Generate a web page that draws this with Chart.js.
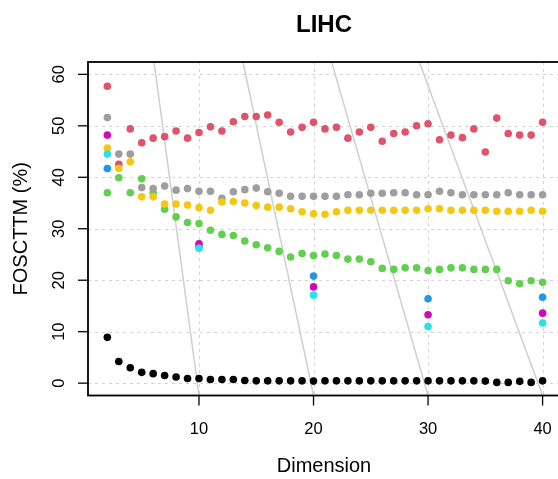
<!DOCTYPE html>
<html>
<head>
<meta charset="utf-8">
<title>LIHC</title>
<script src="https://cdn.jsdelivr.net/npm/chart.js@4/dist/chart.umd.min.js"></script>
<style>
  html, body { margin: 0; padding: 0; background: #ffffff; overflow: hidden; }
  #wrap { width: 572px; height: 479px; }
</style>
</head>
<body>
<div id="wrap"><canvas id="chart" width="572" height="479"></canvas></div>
<script>
// Embedding dimensions evaluated
const dims = [2, 3, 4, 5, 6, 7, 8, 9, 10, 11, 12, 13, 14, 15, 16, 17, 18, 19, 20, 21,
              22, 23, 24, 25, 26, 27, 28, 29, 30, 31, 32, 33, 34, 35, 36, 37, 38, 39, 40];

// FOSCTTM (%) per method, one value per dimension
const redVals = [57.7, 42.5, 49.4, 46.7, 47.6, 47.9, 49.0, 47.6, 48.7, 49.8,
                 49.0, 50.8, 51.8, 51.8, 52.1, 50.7, 48.8, 49.7, 50.7, 49.4,
                 49.7, 47.6, 48.8, 49.7, 47.0, 48.5, 48.8, 50.0, 50.4, 47.3,
                 48.2, 47.7, 49.4, 44.9, 51.5, 48.5, 48.2, 48.2, 50.7];
const grayVals = [51.6, 44.5, 44.5, 38.0, 37.8, 38.3, 37.5, 37.8, 37.3, 37.3,
                  35.9, 37.2, 37.6, 37.9, 37.2, 36.9, 36.3, 36.3, 36.3, 36.3,
                  36.3, 36.6, 36.6, 36.9, 36.9, 37.0, 37.0, 36.6, 36.6, 37.3,
                  37.0, 36.6, 36.6, 36.6, 36.6, 37.0, 36.6, 36.6, 36.6];
const yellowVals = [45.7, 41.7, 43.0, 36.2, 36.2, 34.8, 34.8, 34.6, 34.1, 33.6,
                    35.2, 35.3, 35.0, 34.5, 34.2, 34.2, 33.9, 33.3, 32.9, 32.8,
                    33.3, 33.6, 33.6, 33.6, 33.6, 33.6, 33.6, 33.6, 33.9, 33.9,
                    33.6, 33.6, 33.6, 33.6, 33.4, 33.4, 33.4, 33.6, 33.4];
const greenVals = [37.0, 39.9, 37.0, 39.7, 37.0, 33.8, 32.3, 31.2, 31.0, 29.7,
                   28.9, 28.7, 27.6, 26.9, 26.3, 25.6, 24.5, 25.2, 24.8, 25.1,
                   24.8, 24.1, 24.1, 23.6, 22.3, 22.1, 22.4, 22.4, 21.9, 22.1,
                   22.4, 22.4, 22.1, 22.1, 22.1, 19.9, 19.3, 19.9, 19.6];
const blackVals = [8.9, 4.2, 3.0, 2.1, 1.85, 1.5, 1.2, 0.9, 0.9, 0.7,
                   0.7, 0.7, 0.5, 0.45, 0.45, 0.45, 0.45, 0.45, 0.4, 0.45,
                   0.45, 0.45, 0.45, 0.45, 0.45, 0.45, 0.45, 0.45, 0.45, 0.45,
                   0.45, 0.45, 0.45, 0.4, 0.15, 0.15, 0.35, 0.15, 0.45];

// Methods that were only run at a few dimensions
const sparseDims = [2, 10, 20, 30, 40];
const blueVals = [41.7, 26.6, 20.8, 16.4, 16.7];
const magentaVals = [48.2, 27.1, 18.7, 13.3, 13.6];
const cyanVals = [44.5, 26.2, 17.1, 11.0, 11.7];

// Slanted reference guides: x where each crosses the bottom and top of the panel
const guideBottomX = [10, 20, 30, 40];
const guideTopX = [6.07, 13.84, 21.58, 29.24];

// Axis ticks
const xTicks = [10, 20, 30, 40];
const yTicks = [0, 10, 20, 30, 40, 50, 60];

const X_MIN = 0.31, X_MAX = 41.52;
const Y_MIN = -2.4, Y_MAX = 62.4;

const FONT = '"Liberation Sans", Arial, Helvetica, sans-serif';

function pts(xs, ys) {
  return xs.map((x, i) => ({ x: x, y: ys[i] }));
}

function pointSet(label, xs, ys, color) {
  return {
    label: label,
    data: pts(xs, ys),
    backgroundColor: color,
    borderColor: color,
    borderWidth: 0,
    pointRadius: 3.8,
    pointHoverRadius: 3.8,
    showLine: false
  };
}

const guideSets = guideBottomX.map((bx, i) => ({
  label: 'guide' + (i + 1),
  data: [{ x: bx, y: Y_MIN }, { x: guideTopX[i], y: Y_MAX }],
  showLine: true,
  borderColor: '#cfcfcf',
  borderWidth: 1.5,
  pointRadius: 0,
  pointHoverRadius: 0,
  fill: false
}));

// First dataset is painted last (on top)
const datasets = [
  pointSet('cyan', sparseDims, cyanVals, '#28E2E5'),
  pointSet('magenta', sparseDims, magentaVals, '#CD0BBC'),
  pointSet('blue', sparseDims, blueVals, '#2297E6'),
  pointSet('yellow', dims, yellowVals, '#F5C710'),
  pointSet('gray', dims, grayVals, '#9E9E9E'),
  pointSet('green', dims, greenVals, '#61D04F'),
  pointSet('red', dims, redVals, '#DF536B'),
  pointSet('black', dims, blackVals, '#000000'),
  ...guideSets
];

// Dotted grid underneath the data
const gridPlugin = {
  id: 'rGrid',
  beforeDatasetsDraw(chart) {
    const ctx = chart.ctx, a = chart.chartArea;
    const xs = chart.scales.x, ys = chart.scales.y;
    ctx.save();
    ctx.strokeStyle = '#d3d3d3';
    ctx.lineWidth = 1;
    ctx.setLineDash([3, 4]);
    xTicks.forEach(v => {
      const px = Math.round(xs.getPixelForValue(v)) + 0.5;
      ctx.beginPath(); ctx.moveTo(px, a.top); ctx.lineTo(px, a.bottom); ctx.stroke();
    });
    yTicks.forEach(v => {
      const py = Math.round(ys.getPixelForValue(v)) + 0.5;
      ctx.beginPath(); ctx.moveTo(a.left, py); ctx.lineTo(a.right, py); ctx.stroke();
    });
    ctx.restore();
  }
};

// Box, ticks, tick labels, axis titles and main title
const framePlugin = {
  id: 'rFrame',
  afterDraw(chart) {
    const ctx = chart.ctx, a = chart.chartArea;
    const xs = chart.scales.x, ys = chart.scales.y;
    ctx.save();
    ctx.setLineDash([]);
    ctx.strokeStyle = '#000000';
    ctx.lineWidth = 1.8;
    ctx.strokeRect(a.left, a.top, a.right - a.left, a.bottom - a.top);

    ctx.lineWidth = 1.3;
    const tickLen = 10;
    xTicks.forEach(v => {
      const px = xs.getPixelForValue(v);
      ctx.beginPath(); ctx.moveTo(px, a.bottom); ctx.lineTo(px, a.bottom + tickLen); ctx.stroke();
    });
    yTicks.forEach(v => {
      const py = ys.getPixelForValue(v);
      ctx.beginPath(); ctx.moveTo(a.left, py); ctx.lineTo(a.left - tickLen, py); ctx.stroke();
    });

    ctx.fillStyle = '#000000';
    ctx.textAlign = 'center';
    ctx.textBaseline = 'middle';
    ctx.font = '16.5px ' + FONT;
    xTicks.forEach(v => {
      ctx.fillText(String(v), xs.getPixelForValue(v), 429);
    });
    yTicks.forEach(v => {
      ctx.save();
      ctx.translate(59, ys.getPixelForValue(v));
      ctx.rotate(-Math.PI / 2);
      ctx.fillText(String(v), 0, 0);
      ctx.restore();
    });

    const cx = (a.left + a.right) / 2;
    const cy = (a.top + a.bottom) / 2;
    ctx.font = '20px ' + FONT;
    ctx.fillText('Dimension', cx, 466);
    ctx.save();
    ctx.translate(21, cy);
    ctx.rotate(-Math.PI / 2);
    ctx.fillText('FOSCTTM (%)', 0, 0);
    ctx.restore();

    ctx.font = 'bold 24px ' + FONT;
    ctx.fillText('LIHC', cx, 25);
    ctx.restore();
  }
};

new Chart(document.getElementById('chart'), {
  type: 'scatter',
  data: { datasets: datasets },
  options: {
    responsive: false,
    animation: false,
    events: [],
    layout: { padding: { left: 88, top: 62, right: 12, bottom: 83.5 } },
    scales: {
      x: { type: 'linear', min: X_MIN, max: X_MAX, display: false },
      y: { type: 'linear', min: Y_MIN, max: Y_MAX, display: false }
    },
    plugins: {
      legend: { display: false },
      title: { display: false },
      tooltip: { enabled: false }
    }
  },
  plugins: [gridPlugin, framePlugin]
});
</script>
</body>
</html>
